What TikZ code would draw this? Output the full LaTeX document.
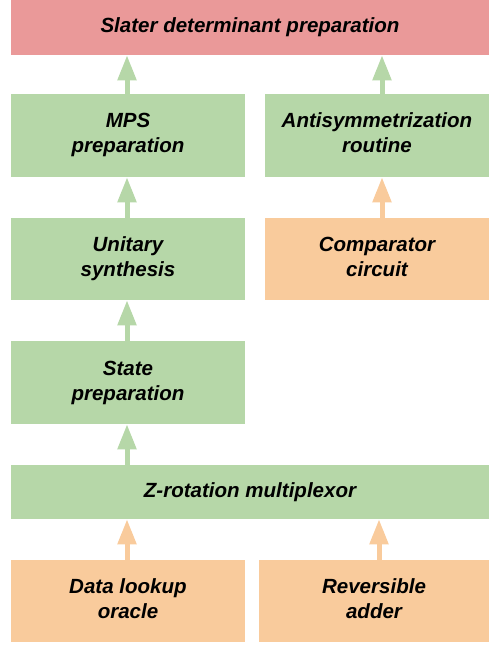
\documentclass[tikz,border=0pt]{standalone}
\usepackage{fontspec}
\setmainfont{Liberation Sans}
\usetikzlibrary{arrows.meta}
\definecolor{redbox}{HTML}{EA9999}
\definecolor{greenbox}{HTML}{B6D7A8}
\definecolor{orangebox}{HTML}{F9CB9C}
\tikzset{
  blk/.style={inner sep=0pt, draw=none, align=center, font=\fontsize{15.4pt}{18.75pt}\selectfont\bfseries\itshape},
  rbox/.style={blk, fill=redbox},
  gbox/.style={blk, fill=greenbox},
  obox/.style={blk, fill=orangebox},
  uparrow/.style={line width=3.75pt, -{Triangle[length=18.75pt,width=13.5pt]}},
  garrow/.style={uparrow, draw=greenbox},
  oarrow/.style={uparrow, draw=orangebox},
}
\begin{document}
\begin{tikzpicture}[x=0.75pt,y=-0.75pt]
\useasboundingbox (0,0) rectangle (489,645);
\node[rbox, minimum width=358.5pt, minimum height=41.25pt] (slater) at (250,27.5) {\strut Slater determinant preparation};
\node[gbox, minimum width=175.5pt, minimum height=62.25pt] (mps) at (128,135.5) {\strut MPS\\\strut preparation};
\node[gbox, minimum width=168pt, minimum height=62.25pt] (anti) at (377,135.5) {\strut Antisymmetrization\\\strut routine};
\node[gbox, minimum width=175.5pt, minimum height=61.5pt] (unit) at (128,259) {\strut Unitary\\\strut synthesis};
\node[obox, minimum width=168pt, minimum height=61.5pt] (comp) at (377,259) {\strut Comparator\\\strut circuit};
\node[gbox, minimum width=175.5pt, minimum height=62.25pt] (state) at (128,382.5) {\strut State\\\strut preparation};
\node[gbox, minimum width=358.5pt, minimum height=40.5pt] (zrot) at (250,492) {\strut Z-rotation multiplexor};
\node[obox, minimum width=175.5pt, minimum height=61.5pt] (data) at (128,601) {\strut Data lookup\\\strut oracle};
\node[obox, minimum width=172.5pt, minimum height=61.5pt] (adder) at (374,601) {\strut Reversible\\\strut adder};
\coordinate (xl) at (127,0);
\coordinate (xr) at (382,0);
\coordinate (xa) at (379,0);
\draw[garrow] (mps.north -| xl) -- (slater.south -| xl);
\draw[garrow] (anti.north -| xr) -- (slater.south -| xr);
\draw[garrow] (unit.north -| xl) -- (mps.south -| xl);
\draw[oarrow] (comp.north -| xr) -- (anti.south -| xr);
\draw[garrow] (state.north -| xl) -- (unit.south -| xl);
\draw[garrow] (zrot.north -| xl) -- (state.south -| xl);
\draw[oarrow] (data.north -| xl) -- (zrot.south -| xl);
\draw[oarrow] (adder.north -| xa) -- (zrot.south -| xa);
\end{tikzpicture}
\end{document}
